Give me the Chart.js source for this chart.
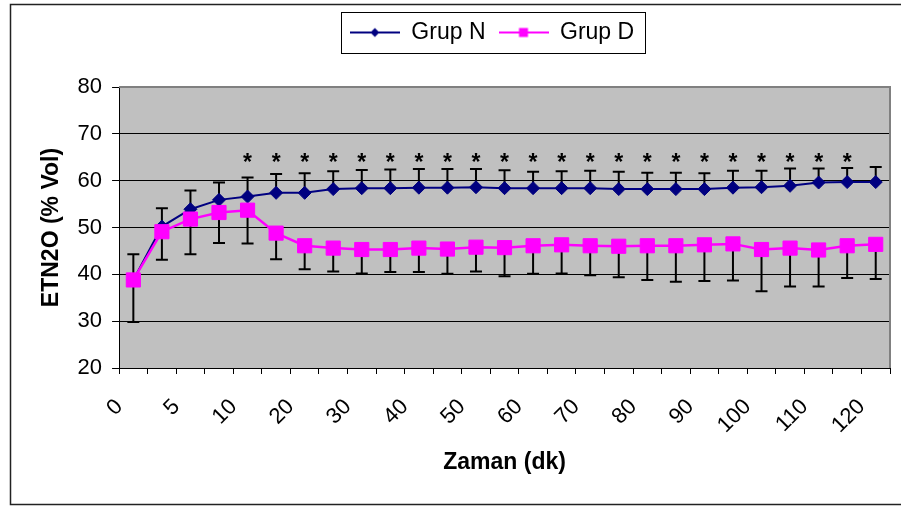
<!DOCTYPE html>
<html>
<head>
<meta charset="utf-8">
<script src="https://cdn.jsdelivr.net/npm/chart.js@4.4.0/dist/chart.umd.min.js"></script>
<style>
    html, body { margin: 0; padding: 0; background: #fff; }
</style>
</head>
<body>
<canvas id="canvas-grafico" width="901" height="506"></canvas>
<script>
var categorias = ['0', '2.5', '5', '7.5', '10', '15', '20', '25', '30', '35', '40', '45', '50', '55',
                  '60', '65', '70', '75', '80', '85', '90', '95', '100', '105', '110', '115', '120'];
var rotulos_x = ['0', '5', '10', '20', '30', '40', '50', '60', '70', '80', '90', '100', '110', '120'];
var rotulos_y = [20, 30, 40, 50, 60, 70, 80];

var grupo_n = [38.8, 50.2, 53.9, 55.9, 56.6, 57.4, 57.4, 58.2, 58.4, 58.4, 58.5, 58.5, 58.6, 58.4,
               58.4, 58.4, 58.4, 58.2, 58.2, 58.2, 58.2, 58.5, 58.6, 58.9, 59.6, 59.7, 59.7];
var grupo_n_dp = [5.5, 3.9, 4.0, 3.7, 4.1, 4.0, 4.2, 3.8, 3.9, 4.0, 4.0, 4.0, 3.9, 3.8,
                  3.5, 3.6, 3.7, 3.7, 3.5, 3.5, 3.4, 3.6, 3.5, 3.7, 3.0, 3.0, 3.2];

var grupo_d = [38.8, 49.1, 51.8, 53.2, 53.7, 48.8, 46.1, 45.6, 45.3, 45.3, 45.6, 45.4, 45.8, 45.7,
               46.1, 46.3, 46.1, 46.0, 46.1, 46.1, 46.3, 46.5, 45.3, 45.6, 45.2, 46.1, 46.4];
var grupo_d_dp = [9.0, 6.0, 7.5, 6.5, 7.1, 5.6, 5.0, 5.0, 5.1, 4.8, 5.1, 5.3, 5.2, 6.1,
                  6.0, 6.1, 6.3, 6.6, 7.3, 7.7, 7.7, 7.8, 8.9, 8.2, 7.8, 6.9, 7.4];

// tempos com diferenca significativa (*)
var asteriscos = ['10', '15', '20', '25', '30', '35', '40', '45', '50', '55', '60', '65', '70',
                  '75', '80', '85', '90', '95', '100', '105', '110', '115'];
var nivel_asterisco = 64.8;

var fonte = "'Liberation Sans', Arial, sans-serif";

function icone_legenda(cor, forma) {
    var c = document.createElement('canvas');
    c.width = 50;
    c.height = 14;
    var ctx = c.getContext('2d');
    ctx.strokeStyle = cor;
    ctx.lineWidth = 2;
    ctx.beginPath();
    ctx.moveTo(0, 7);
    ctx.lineTo(50, 7);
    ctx.stroke();
    ctx.fillStyle = cor;
    if (forma === 'losango') {
        ctx.beginPath();
        ctx.moveTo(25, 2.5);
        ctx.lineTo(29.5, 7);
        ctx.lineTo(25, 11.5);
        ctx.lineTo(20.5, 7);
        ctx.closePath();
        ctx.fill();
    } else {
        ctx.fillRect(20.5, 2.5, 9, 9);
    }
    return c;
}

var icones = [icone_legenda('#000080', 'losango'), icone_legenda('#FF00FF', 'quadrado')];

var plugin_fundo = {
    id: 'fundo',
    beforeDraw: function(chart) {
        var a = chart.chartArea, ctx = chart.ctx;
        ctx.save();
        ctx.fillStyle = '#C0C0C0';
        ctx.fillRect(a.left, a.top, a.right - a.left, a.bottom - a.top);
        ctx.restore();
    },
    afterLayout: function(chart) {
        // desloca a legenda para a direita, como no original
        var lg = chart.legend;
        var d = 492 - (lg.left + lg.right) / 2;
        lg.left += d;
        lg.right += d;
        lg.legendHitBoxes.forEach(function(h) { h.left += d; });
    },
    beforeDatasetsDraw: function(chart) {
        var ctx = chart.ctx, x = chart.scales.x, y = chart.scales.y;
        ctx.save();
        ctx.strokeStyle = '#000';
        ctx.lineWidth = 2;
        function barra(i, v0, v1) {
            var px = x.getPixelForValue(i);
            var p0 = y.getPixelForValue(v0), p1 = y.getPixelForValue(v1);
            ctx.beginPath();
            ctx.moveTo(px, p0);
            ctx.lineTo(px, p1);
            ctx.moveTo(px - 6, p1);
            ctx.lineTo(px + 6, p1);
            ctx.stroke();
        }
        categorias.forEach(function(c, i) {
            barra(i, grupo_n[i], grupo_n[i] + grupo_n_dp[i]);
            barra(i, grupo_d[i], grupo_d[i] - grupo_d_dp[i]);
        });
        ctx.restore();
    },
    afterDraw: function(chart) {
        var ctx = chart.ctx, a = chart.chartArea, x = chart.scales.x, y = chart.scales.y;
        ctx.save();
        // borda cinza do plot
        ctx.strokeStyle = '#808080';
        ctx.lineWidth = 2;
        ctx.beginPath();
        ctx.moveTo(a.left, a.top);
        ctx.lineTo(a.right, a.top);
        ctx.lineTo(a.right, a.bottom);
        ctx.stroke();
        // asteriscos
        ctx.fillStyle = '#000';
        ctx.font = 'bold 23px ' + fonte;
        ctx.textAlign = 'center';
        ctx.textBaseline = 'alphabetic';
        asteriscos.forEach(function(c) {
            var px = x.getPixelForValue(categorias.indexOf(c));
            ctx.fillText('*', px, y.getPixelForValue(nivel_asterisco) + 12);
        });
        // caixa da legenda
        var hb = chart.legend.legendHitBoxes;
        var l = hb[0].left - 9, r = hb[hb.length - 1].left + hb[hb.length - 1].width + 11;
        ctx.strokeStyle = '#000';
        ctx.lineWidth = 1;
        ctx.strokeRect(Math.round(l) + 0.5, Math.round(hb[0].top - 9) + 0.5, Math.round(r - l), Math.round(hb[0].height + 18));
        // moldura externa
        ctx.strokeStyle = '#222';
        ctx.lineWidth = 1.5;
        ctx.strokeRect(10.5, 4.5, 900, 500);
        ctx.restore();
    }
};

var canvas = document.getElementById('canvas-grafico');
var chart = new Chart(canvas, {
    type: 'line',
    data: {
        labels: categorias,
        datasets: [
            {
                label: 'Grup N',
                data: grupo_n,
                borderColor: '#000080',
                backgroundColor: '#000080',
                borderWidth: 2,
                pointStyle: 'rectRot',
                pointRadius: 6.5,
                pointBorderWidth: 1,
                pointBackgroundColor: '#000080',
                pointBorderColor: '#000080',
                tension: 0,
                fill: false,
                order: 1
            },
            {
                label: 'Grup D',
                data: grupo_d,
                borderColor: '#FF00FF',
                backgroundColor: '#FF00FF',
                borderWidth: 2.5,
                pointStyle: 'rect',
                pointRadius: 10,
                pointBorderWidth: 1,
                pointBackgroundColor: '#FF00FF',
                pointBorderColor: '#FF00FF',
                tension: 0,
                fill: false,
                order: 0
            }
        ]
    },
    options: {
        responsive: false,
        animation: false,
        layout: { padding: { top: 8, left: 38, right: 10, bottom: 28 } },
        plugins: {
            legend: {
                position: 'top',
                weight: 3000,
                labels: {
                    usePointStyle: true,
                    pointStyleWidth: 50,
                    padding: 13,
                    color: '#000',
                    font: { family: fonte, size: 23 },
                    generateLabels: function(chart) {
                        return chart.data.datasets.map(function(ds, i) {
                            return {
                                text: ds.label,
                                pointStyle: icones[i],
                                fillStyle: ds.borderColor,
                                strokeStyle: ds.borderColor,
                                lineWidth: 0,
                                hidden: false,
                                datasetIndex: i,
                                fontColor: '#000'
                            };
                        });
                    }
                }
            },
            title: {
                display: true,
                text: '',
                font: { size: 10, lineHeight: 1 },
                padding: { top: 0, bottom: 23 }
            },
            tooltip: { enabled: false }
        },
        scales: {
            x: {
                type: 'category',
                offset: true,
                afterFit: function(axis) {
                    // altura fixa do eixo e sem recuo extra a direita
                    axis.paddingRight = 0;
                    axis.height = 110;
                },
                grid: {
                    display: true,
                    offset: true,
                    drawOnChartArea: false,
                    drawTicks: true,
                    tickLength: 6,
                    color: '#000'
                },
                border: { display: true, color: '#000', width: 1 },
                ticks: {
                    autoSkip: false,
                    minRotation: 45,
                    maxRotation: 45,
                    labelOffset: -14,
                    padding: 20,
                    color: '#000',
                    font: { family: fonte, size: 22 },
                    callback: function(v, i) {
                        var c = categorias[i];
                        return rotulos_x.indexOf(c) >= 0 ? c : '';
                    }
                },
                title: {
                    display: true,
                    text: 'Zaman (dk)',
                    color: '#000',
                    font: { family: fonte, size: 23, weight: 'bold' },
                    padding: { top: 0, bottom: 2 }
                }
            },
            y: {
                min: 20,
                max: 80,
                afterBuildTicks: function(axis) {
                    axis.ticks = rotulos_y.map(function(v) { return { value: v }; });
                },
                grid: {
                    color: function(ctx) { return ctx.tick && ctx.tick.value === 80 ? 'rgba(0,0,0,0)' : '#000'; },
                    tickColor: '#000',
                    tickLength: 7,
                    lineWidth: 1
                },
                border: { display: true, color: '#000', width: 1 },
                ticks: {
                    padding: 10,
                    color: '#000',
                    font: { family: fonte, size: 22 }
                },
                title: {
                    display: true,
                    text: 'ETN2O (% Vol)',
                    color: '#000',
                    font: { family: fonte, size: 23, weight: 'bold' },
                    padding: { top: 0, bottom: 2 }
                }
            }
        }
    },
    plugins: [plugin_fundo]
});
</script>
</body>
</html>
